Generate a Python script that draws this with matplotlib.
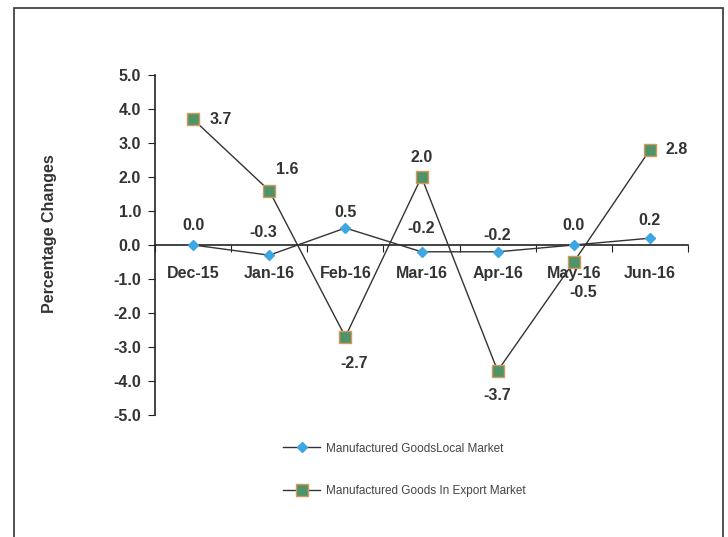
import matplotlib
matplotlib.use('Agg')
import matplotlib.pyplot as plt
from matplotlib.patches import Rectangle

# ── DATOS ──────────────────────────────────────────────────────────────────────
meses = ['Dec-15', 'Jan-16', 'Feb-16', 'Mar-16', 'Apr-16', 'May-16', 'Jun-16']
local = [0.0, -0.3, 0.5, -0.2, -0.2, 0.0, 0.2]
export = [3.7, 1.6, -2.7, 2.0, -3.7, -0.5, 2.8]
y_ticks = [5.0, 4.0, 3.0, 2.0, 1.0, 0.0, -1.0, -2.0, -3.0, -4.0, -5.0]

# desplazamientos de etiquetas (puntos)
off_local = [(0, 14), (-4, 16), (0, 11), (0, 17), (0, 12), (0, 14), (0, 13)]
off_export = [(20, 0), (13, 15), (6, -19), (0, 14), (0, -18), (7, -22), (19, 0)]

plt.rcParams['font.family'] = ['Liberation Sans', 'DejaVu Sans']
TXT = '#333333'
FS = 11.5

fig = plt.figure(figsize=(7.28, 5.37), dpi=100)
ax = fig.add_axes([155/728, 1 - 415/537, (688 - 155)/728, (415 - 75)/537])

x = list(range(len(meses)))
l1, = ax.plot(x, local, color='#333333', linewidth=1.0, marker='D', markersize=5.5,
              markerfacecolor='#3ea6e3', markeredgecolor='#3ea6e3',
              label='Manufactured GoodsLocal Market', zorder=3)
l2, = ax.plot(x, export, color='#333333', linewidth=1.0, marker='s', markersize=8.5,
              markerfacecolor='#4f9468', markeredgecolor='#d6985a', markeredgewidth=1.0,
              label='Manufactured Goods In Export Market', zorder=4)

for xi, v, o in zip(x, local, off_local):
    ax.annotate(f'{v:.1f}', (xi, v), xytext=o, textcoords='offset points',
                ha='center', va='center', fontsize=FS, fontweight='bold', color=TXT)
for xi, v, o in zip(x, export, off_export):
    ax.annotate(f'{v:.1f}', (xi, v), xytext=o, textcoords='offset points',
                ha='center', va='center', fontsize=FS, fontweight='bold', color=TXT)

ax.set_xlim(-0.5, len(meses) - 0.5)
ax.set_ylim(-5, 5)
ax.set_yticks(y_ticks)
ax.set_yticklabels([f'{t:.1f}' for t in y_ticks], fontsize=FS, fontweight='bold', color=TXT)

# eje x de categorias cruzando en cero
ax.spines['bottom'].set_position(('data', 0))
ax.spines['top'].set_visible(False)
ax.spines['right'].set_visible(False)
for s in ['left', 'bottom']:
    ax.spines[s].set_color('#222222')
    ax.spines[s].set_linewidth(1.2)
ax.set_xticks([i - 0.5 for i in range(len(meses) + 1)], minor=False)
ax.set_xticklabels([])
ax.set_xticks(x, minor=True)
ax.set_xticklabels(meses, minor=True, fontsize=FS, fontweight='bold', color=TXT)
ax.tick_params(axis='x', which='minor', length=0, pad=15)
ax.tick_params(axis='x', which='major', direction='out', length=5, color='#222222')
ax.tick_params(axis='y', direction='out', length=5, color='#222222', pad=5)

ax.set_ylabel('Percentage Changes', fontsize=FS, fontweight='bold', color=TXT)
ax.yaxis.set_label_coords(-0.183, 0.532)

fig.legend(handles=[l1, l2], loc='upper left', bbox_to_anchor=(272/728, 1 - 432/537),
           frameon=False, fontsize=8.5, handlelength=3.2, labelspacing=2.55,
           handletextpad=0.5, labelcolor='#444444')

fig.patches.append(Rectangle((14/728, -0.02), (723 - 14)/728, 1 - 8/537 + 0.02,
                             transform=fig.transFigure, fill=False,
                             edgecolor='#333333', linewidth=1.2))

fig.savefig('out.png', dpi=100)
